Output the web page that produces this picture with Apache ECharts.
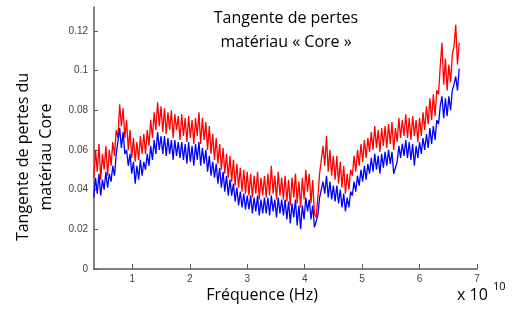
<!DOCTYPE html>
<html>
<head>
<meta charset="utf-8">
<script src="https://cdn.jsdelivr.net/npm/echarts@6/dist/echarts.min.js"></script>
<style>
  html, body { margin: 0; padding: 0; background: #fff; }
  #chart { width: 518px; height: 316px; }
</style>
</head>
<body>
<div id="chart"></div>
<script>
// frequence en unites de 1e10 Hz, un point tous les 0.03
var freqStart = 0.33;
var freqStep = 0.03;
var xTicks = [1, 2, 3, 4, 5, 6, 7];

// tangente de pertes (en millièmes)
var redMilli = [
  46,60,49,63,45,58,50,62,47,60,
  52,64,57,70,66,83,72,81,66,75,
  60,70,56,66,54,64,55,67,58,68,
  58,70,62,75,66,79,70,84,72,82,
  69,81,68,79,70,80,66,78,70,77,
  65,78,67,76,64,77,66,75,63,76,
  67,79,63,76,65,74,60,72,58,68,
  55,66,53,63,50,61,48,58,46,57,
  44,55,42,53,41,51,39,50,38,49,
  37,48,36,47,38,49,35,46,37,47,
  36,48,37,52,38,47,35,49,37,46,
  35,47,34,45,32,46,36,48,33,44,
  31,46,35,50,39,48,33,45,28,26,
  36,48,47,62,52,67,49,60,47,57,
  45,57,43,54,41,52,38,48,40,50,
  47,57,49,60,52,63,54,65,56,66,
  59,69,60,72,61,70,59,71,62,72,
  61,73,63,74,60,71,64,76,66,75,
  67,78,66,76,65,77,67,75,64,76,
  67,79,70,82,73,86,75,88,77,90,
  88,102,114,93,106,90,103,94,108,112,
  123,103,114
];
var blueMilli = [
  36,46,38,48,37,45,40,49,41,48,
  44,52,47,58,57,71,61,69,58,60,
  52,58,48,54,43,52,45,55,47,54,
  50,58,52,62,55,65,58,69,60,67,
  58,67,57,66,58,65,55,65,57,64,
  56,64,55,63,53,64,54,62,52,63,
  55,64,52,61,53,60,49,57,47,54,
  46,53,43,51,41,49,39,47,37,45,
  37,43,34,41,32,39,31,38,30,37,
  30,37,28,36,29,37,27,35,28,36,
  28,36,27,37,29,35,26,36,28,35,
  27,35,25,34,23,33,26,35,22,32,
  20,32,25,36,29,35,25,32,21,20,
  27,36,35,44,38,47,36,44,35,42,
  34,42,33,40,31,38,29,36,31,39,
  37,44,39,47,42,50,44,52,45,53,
  48,56,49,58,50,57,48,58,51,59,
  52,60,53,59,48,51,54,62,56,63,
  57,65,56,64,55,63,52,62,56,64,
  58,66,60,68,61,71,63,72,65,75,
  73,82,87,76,86,77,87,80,90,93,
  97,90,101
];

function toPairs(arr) {
  return arr.map(function (v, i) {
    return [+(freqStart + i * freqStep).toFixed(2), v / 1000];
  });
}

var myChart = echarts.init(document.getElementById("chart"));
var font = "'Open Sans', sans-serif";
var axisColor = "#5a5a5a";

myChart.setOption({
  animation: false,
  grid: { left: 94, right: 41, top: 7, bottom: 47 },
  xAxis: {
    type: "value",
    min: 0.333,
    max: 7,
    axisLine: { lineStyle: { color: axisColor, width: 1.5 } },
    axisTick: { inside: true, length: 5, customValues: xTicks, lineStyle: { color: axisColor } },
    axisLabel: {
      customValues: xTicks,
      color: "#444",
      fontSize: 10,
      fontFamily: "Arial, 'Liberation Sans', sans-serif",
      margin: 5
    },
    splitLine: { show: false }
  },
  yAxis: {
    type: "value",
    min: 0,
    max: 0.132,
    interval: 0.02,
    axisLine: { show: true, lineStyle: { color: axisColor, width: 1.5 } },
    axisTick: { show: true, inside: true, length: 4, lineStyle: { color: axisColor } },
    axisLabel: {
      showMaxLabel: false,
      color: "#444",
      fontSize: 10,
      fontFamily: "Arial, 'Liberation Sans', sans-serif",
      margin: 6,
      formatter: function (v) {
        return v === 0 ? "0" : String(+v.toFixed(2));
      }
    },
    splitLine: { show: false }
  },
  series: [
    {
      name: "rouge",
      type: "line",
      symbol: "none",
      data: toPairs(redMilli),
      lineStyle: { color: "#ff0000", width: 1.3 },
      itemStyle: { color: "#ff0000" }
    },
    {
      name: "bleu",
      type: "line",
      symbol: "none",
      data: toPairs(blueMilli),
      lineStyle: { color: "#0000ff", width: 1.3 },
      itemStyle: { color: "#0000ff" }
    }
  ],
  graphic: [
    {
      type: "text",
      x: 286,
      y: 6,
      style: {
        text: "Tangente de pertes\nmatériau « Core »",
        textAlign: "center",
        font: "16px " + font,
        lineHeight: 24,
        fill: "#000"
      }
    },
    {
      type: "text",
      x: 35,
      y: 157,
      rotation: Math.PI / 2,
      style: {
        text: "Tangente de pertes du\nmatériau Core",
        textAlign: "center",
        textVerticalAlign: "middle",
        font: "16px " + font,
        lineHeight: 23,
        fill: "#000"
      }
    },
    {
      type: "text",
      x: 262,
      y: 295,
      style: {
        text: "Fréquence (Hz)",
        textAlign: "center",
        textVerticalAlign: "middle",
        font: "16px " + font,
        fill: "#000"
      }
    },
    {
      type: "text",
      x: 457,
      y: 295,
      style: {
        text: "x 10",
        textVerticalAlign: "middle",
        font: "16px " + font,
        fill: "#000"
      }
    },
    {
      type: "text",
      x: 493,
      y: 287,
      style: {
        text: "10",
        textVerticalAlign: "middle",
        font: "11px " + font,
        fill: "#000"
      }
    }
  ]
});
</script>
</body>
</html>
